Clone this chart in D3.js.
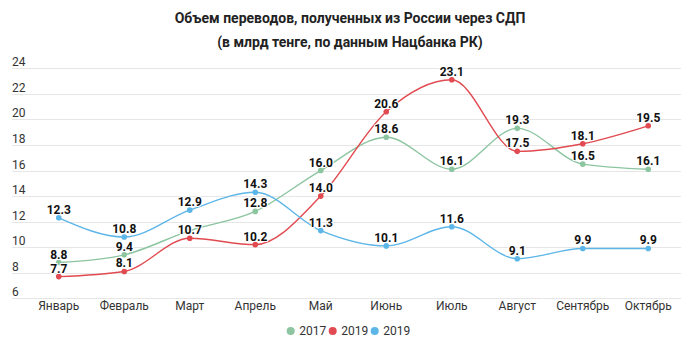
<!DOCTYPE html>
<html><head><meta charset="utf-8">
<script src="https://cdn.jsdelivr.net/npm/d3@7"></script>
<style>
html,body{margin:0;padding:0;background:#fff;}
svg{display:block;font-family:Roboto,"Noto Sans",sans-serif;}
</style></head>
<body><svg id="c" width="700" height="346"></svg>
<script>
const titleLines = ["Объем переводов, полученных из России через СДП", "(в млрд тенге, по данным Нацбанка РК)"];
const months = ["Январь","Февраль","Март","Апрель","Май","Июнь","Июль","Август","Сентябрь","Октябрь"];
const seriesNames = ["2017","2019","2019"];
const seriesColors = ["#8cc5a0","#e04a50","#5cb6e8"];
const values2017 = [8.8, 9.4, 11.3, 12.8, 16.0, 18.6, 16.1, 19.3, 16.5, 16.1];
const values2019a = [7.7, 8.1, 10.7, 10.2, 14.0, 20.6, 23.1, 17.5, 18.1, 19.5];
const values2019b = [12.3, 10.8, 12.9, 14.3, 11.3, 10.1, 11.6, 9.1, 9.9, 9.9];
const yTicks = [6, 8, 10, 12, 14, 16, 18, 20, 22, 24];
// labels hidden by overlap in the original: [seriesIndex, monthIndex]
const hiddenLabels = [[0, 2]];

const allSeries = [values2017, values2019a, values2019b];
const svg = d3.select("#c");

const x = d3.scaleBand().domain(months).range([26, 681]).padding(0);
const y = d3.scaleLinear().domain([6, 24]).range([298.3, 68.3]);
const cx = m => x(m) + x.bandwidth() / 2;

// title
svg.append("g").selectAll("text").data(titleLines).join("text")
  .attr("x", 350).attr("y", (d, i) => 23 + i * 23.5)
  .attr("text-anchor", "middle").attr("font-size", 14).attr("font-weight", "bold")
  .attr("fill", "#222").text(d => d);

// grid + y labels
const yAxis = d3.axisLeft(y).tickValues(yTicks).tickSize(0).tickFormat(d3.format("d"));
const gy = svg.append("g");
gy.selectAll("line").data(yTicks).join("line")
  .attr("x1", 12).attr("x2", 681).attr("y1", d => Math.round(y(d)) + 0.5).attr("y2", d => Math.round(y(d)) + 0.5)
  .attr("stroke", "#e6e6e6").attr("stroke-width", 1);
gy.selectAll("text").data(yTicks).join("text")
  .attr("x", 12).attr("y", d => y(d) - 2)
  .attr("font-size", 12).attr("fill", "#333").text(d => yAxis.tickFormat()(d));

// x labels
const xAxis = d3.axisBottom(x).tickSize(0).tickPadding(0);
const gx = svg.append("g").attr("transform", "translate(0,298)").call(xAxis);
gx.select(".domain").remove();
gx.selectAll("text").attr("font-size", 12).attr("fill", "#333")
  .attr("font-family", "Roboto, sans-serif").attr("dy", null).attr("y", 12);

// lines
const line = d3.line().x((d, i) => cx(months[i])).y(d => y(d)).curve(d3.curveMonotoneX);
const gl = svg.append("g");
allSeries.forEach((vals, si) => {
  gl.append("path").attr("d", line(vals)).attr("fill", "none")
    .attr("stroke", seriesColors[si]).attr("stroke-width", 1.4);
});
allSeries.forEach((vals, si) => {
  gl.append("g").selectAll("circle").data(vals).join("circle")
    .attr("cx", (d, i) => cx(months[i])).attr("cy", d => y(d)).attr("r", 2.8)
    .attr("fill", seriesColors[si]);
});
// data labels
const isHidden = (si, i) => hiddenLabels.some(h => h[0] === si && h[1] === i);
allSeries.forEach((vals, si) => {
  const g = gl.append("g");
  vals.forEach((v, i) => {
    if (isHidden(si, i)) return;
    const t = d3.format(".1f")(v);
    [true, false].forEach(outline => {
      const tx = g.append("text").attr("x", cx(months[i])).attr("y", y(v) - 4)
        .attr("text-anchor", "middle").attr("font-size", 12).attr("font-weight", "bold")
        .text(t);
      if (outline) tx.attr("fill", "none").attr("stroke", "#fff").attr("stroke-width", 2).attr("stroke-linejoin", "round");
      else tx.attr("fill", "#111");
    });
  });
});

// legend
const legX = [290.7, 332.7, 374.7];
const gLeg = svg.append("g");
seriesNames.forEach((n, i) => {
  gLeg.append("circle").attr("cx", legX[i]).attr("cy", 331).attr("r", 4).attr("fill", seriesColors[i]);
  gLeg.append("text").attr("x", legX[i] + 8.5).attr("y", 335.3).attr("font-size", 12)
    .attr("fill", "#333").text(n);
});
</script></body></html>
